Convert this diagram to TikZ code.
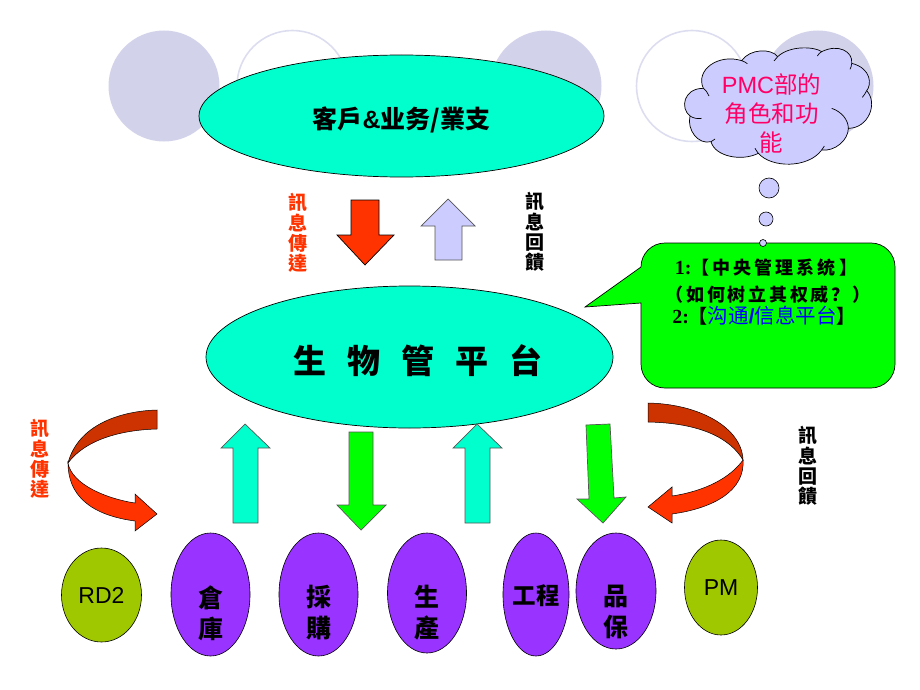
\documentclass[tikz,border=0pt]{standalone}
\usepackage{fontspec}
\usetikzlibrary{shapes.geometric}
\setmainfont{Liberation Sans}
\newfontfamily\cjktc{Noto Sans CJK TC}
\newfontfamily\cjksc{Noto Sans CJK SC}
\newfontfamily\serlat{Liberation Serif}
\definecolor{cyanfill}{HTML}{00FFCC}
\definecolor{purplefill}{HTML}{9933FF}
\definecolor{olivefill}{HTML}{A0C800}
\definecolor{redfill}{HTML}{FF3300}
\definecolor{darkred}{HTML}{CC3300}
\definecolor{lav}{HTML}{CCCCFF}
\definecolor{bgdisc}{HTML}{D2D2EA}
\definecolor{bgring}{HTML}{DDDDF0}
\definecolor{greenfill}{HTML}{00FF00}
\definecolor{pinktext}{HTML}{FF0066}
\definecolor{edgegray}{HTML}{555555}
\tikzset{
  x=1pt,y=-1pt,
  disc/.style={circle,fill=bgdisc,minimum size=111pt,inner sep=0pt},
  ring/.style={circle,draw=bgring,line width=1.6pt,minimum size=111pt,inner sep=0pt},
  bigell/.style={ellipse,draw=black,line width=.7pt,fill=cyanfill,inner sep=0pt},
  dept/.style={ellipse,draw=black,line width=.6pt,fill=purplefill,inner sep=0pt},
  depttext/.style={inner sep=0pt,align=center,font=\cjktc\bfseries\fontsize{25}{31}\selectfont},
  pers/.style={ellipse,draw=black,line width=.6pt,fill=olivefill,inner sep=0pt,font=\fontsize{23}{26}\selectfont},
  blockarrow/.style={draw=edgegray,line width=.7pt,line join=miter},
  curl/.style={draw=black,line width=.5pt,line join=miter},
  vlabel/.style={inner sep=0pt,align=center,font=\cjktc\bfseries\fontsize{19}{20.2}\selectfont},
  bub/.style={circle,draw=black,line width=.6pt,fill=lav,inner sep=0pt},
  calltext/.style={inner sep=0pt,anchor=base,font=\cjksc\bfseries\fontsize{18}{20}\selectfont\addfontfeature{LetterSpace=17}},
}
\begin{document}
\begin{tikzpicture}
\useasboundingbox (0,0) rectangle (920,690);
% background circles
\node[disc] (d1) at (164,86) {};
\node[ring] (r2) at (292.5,86) {};
\node[disc] (d3) at (546,86) {};
\node[ring] (r4) at (692,86) {};
\node[disc] (d5) at (818,86) {};
% big ellipses
\node[bigell,minimum width=405pt,minimum height=122pt] (cust) at (401.5,116) {};
\node[inner sep=0pt,font=\cjktc\bfseries\fontsize{25}{28}\selectfont] (custt) at (401.5,120) {客戶{\fontspec{Liberation Sans}\&}业务/業支};
\node[bigell,minimum width=407pt,minimum height=142pt] (plat) at (409.5,357) {};
\node[inner sep=0pt,font=\cjktc\bfseries\fontsize{33}{36}\selectfont] (platt) at (418,361) {生\hspace{21pt}物\hspace{21pt}管\hspace{21pt}平\hspace{21pt}台};
% top arrows
\draw[blockarrow,draw=black,fill=redfill] (351,200)--(379,200)--(379,235)--(394,235)--(365,265)--(337,235)--(351,235)--cycle;
\draw[blockarrow,fill=lav] (448,199)--(475,226)--(462,226)--(462,260)--(435,260)--(435,226)--(421,226)--cycle;
% vertical labels
\node[vlabel,text=redfill] (l1) at (298,233) {訊\\息\\傳\\達};
\node[vlabel] (l2) at (535,232) {訊\\息\\回\\饋};
\node[vlabel,text=redfill] (l3) at (40,459) {訊\\息\\傳\\達};
\node[vlabel] (l4) at (808,466) {訊\\息\\回\\饋};
% middle arrows
\draw[blockarrow,fill=cyanfill] (245,424)--(270,448)--(258,448)--(258,523)--(233,523)--(233,448)--(221,448)--cycle;
\draw[blockarrow,fill=greenfill] (349,432)--(373,432)--(373,505)--(386,505)--(361,530)--(337,505)--(349,505)--cycle;
\draw[blockarrow,fill=cyanfill] (477,424)--(502,448)--(490,448)--(490,523)--(465,523)--(465,448)--(453,448)--cycle;
\draw[blockarrow,fill=greenfill] (586,425)--(610,424)--(614,498)--(626,497)--(603,523)--(577,499)--(589,499)--cycle;
% curved arrows
\draw[curl,fill=redfill] (68,463) .. controls (68,495) and (90,515) .. (135,521) -- (135,531) -- (157,514) -- (135,494) -- (135,503) .. controls (108,499) and (72,485) .. (68,463) -- cycle;
\draw[curl,fill=darkred] (157,410) .. controls (120,411) and (78,425) .. (68,463) .. controls (85,440) and (120,430) .. (157,429) -- cycle;
\draw[curl,fill=redfill] (743,460) .. controls (745,490) and (715,508) .. (672,514) -- (672,523) -- (648,507) -- (672,487) -- (672,496) .. controls (705,491) and (730,478) .. (743,460) -- cycle;
\draw[curl,fill=darkred] (648,403) .. controls (700,404) and (742,428) .. (743,460) .. controls (730,438) and (700,423) .. (648,422) -- cycle;
% departments
\node[pers,minimum width=80pt,minimum height=94pt] (rd) at (101.5,595) {RD2};
\node[dept,minimum width=79pt,minimum height=123pt] (cang) at (210.5,594.5) {};
\node[depttext] (cangt) at (210.5,613) {倉\\庫};
\node[dept,minimum width=79pt,minimum height=123pt] (cai) at (318.5,594.5) {};
\node[depttext] (cait) at (318.5,613) {採\\購};
\node[dept,minimum width=79pt,minimum height=120pt] (sheng) at (427,593) {};
\node[depttext] (shengt) at (427,613) {生\\產};
\node[dept,minimum width=66pt,minimum height=123pt] (gong) at (536,594.5) {};
\node[depttext,font=\cjktc\bfseries\fontsize{23.5}{31}\selectfont] (gongt) at (536,596) {工程};
\node[dept,minimum width=80pt,minimum height=116pt] (pin) at (616,591) {};
\node[depttext] (pint) at (616,612) {品\\保};
\node[pers,minimum width=73pt,minimum height=95pt] (pm) at (721,587.5) {PM};
% cloud
\begin{scope}[shift={(675,40)},x=.33333pt,y=-.33333pt]
\draw[draw=black,line width=.7pt,fill=lav]
 (45,228) .. controls (15,205) and (25,145) .. (85,145)
 .. controls (60,90) and (130,40) .. (200,62)
 .. controls (225,25) and (290,25) .. (308,50)
 .. controls (345,15) and (420,20) .. (440,35)
 .. controls (490,10) and (535,35) .. (530,70)
 .. controls (590,85) and (590,135) .. (575,152)
 .. controls (610,190) and (580,265) .. (520,265)
 .. controls (520,300) and (480,335) .. (440,330)
 .. controls (400,385) and (290,385) .. (250,340)
 .. controls (200,365) and (120,350) .. (108,305)
 .. controls (70,315) and (35,270) .. (45,228) -- cycle;
\draw[line width=.7pt] (85,145) .. controls (92,150) and (98,158) .. (102,168);
\draw[line width=.7pt] (45,228) .. controls (55,235) and (68,237) .. (80,235);
\draw[line width=.7pt] (108,305) .. controls (112,302) and (116,300) .. (120,297);
\draw[line width=.7pt] (250,340) .. controls (246,335) and (243,330) .. (240,325);
\draw[line width=.7pt] (440,330) .. controls (443,326) and (446,322) .. (448,318);
\draw[line width=.7pt] (520,265) .. controls (520,240) and (500,215) .. (470,205);
\draw[line width=.7pt] (575,152) .. controls (571,160) and (567,166) .. (562,172);
\draw[line width=.7pt] (530,70) .. controls (530,76) and (528,82) .. (525,88);
\draw[line width=.7pt] (440,35) .. controls (435,38) and (430,42) .. (427,48);
\draw[line width=.7pt] (308,50) .. controls (303,54) and (300,58) .. (297,63);
\draw[line width=.7pt] (200,62) .. controls (206,64) and (212,67) .. (217,71);
\end{scope}
\node[inner sep=0pt,align=center,text=pinktext,font=\cjksc\fontsize{23.5}{29}\selectfont] (cloudt) at (771.5,113.5) {{\fontspec{Liberation Sans}PMC}部的\\角色和功\\能};
% thought bubbles
\node[bub,minimum size=20pt] (b1) at (769,188) {};
\node[bub,minimum size=14pt] (b2) at (766,219) {};
% callout
\draw[draw=black,line width=.7pt,fill=greenfill] (585,307) -- (641,303) -- (641,364) .. controls (641,377.25) and (651.75,388) .. (665,388) -- (871,388) .. controls (884.25,388) and (895,377.25) .. (895,364) -- (895,267) .. controls (895,253.75) and (884.25,243) .. (871,243) -- (665,243) .. controls (651.75,243) and (641,253.75) .. (641,267) -- cycle;
\node[bub,minimum size=7pt] (b3) at (763,243) {};
\node[calltext] (c1) at (766,274) {{\serlat\fontsize{20}{20}\selectfont 1:}【中央管理系统】};
\node[calltext,font=\cjksc\bfseries\fontsize{18}{20}\selectfont\addfontfeature{LetterSpace=15}] (c2) at (768,301) {（如何树立其权威？）};
\node[calltext,font=\cjksc\bfseries\fontsize{19}{20}\selectfont] (c3) at (764,323) {{\serlat\fontsize{20}{20}\selectfont 2:}【\textcolor{blue}{\fontsize{20.5}{20}\selectfont\mdseries 沟通{\fontspec{Liberation Sans}\bfseries/}信息平台}】};
\end{tikzpicture}
\end{document}
